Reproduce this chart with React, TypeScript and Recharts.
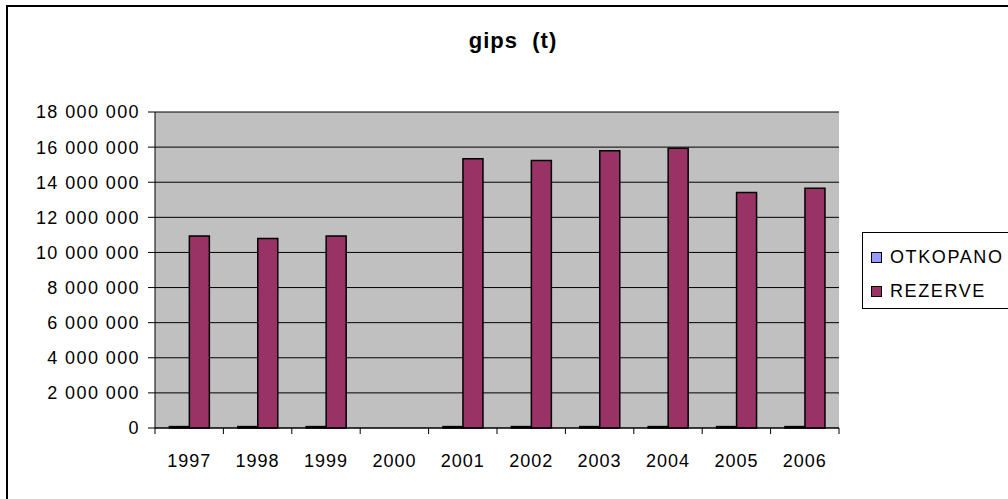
import React from 'react';
import {
  BarChart,
  Bar,
  XAxis,
  YAxis,
  CartesianGrid,
  ReferenceArea,
} from 'recharts';

const years = ['1997', '1998', '1999', '2000', '2001', '2002', '2003', '2004', '2005', '2006'];
const otkopano = [80000, 80000, 80000, null, 80000, 80000, 80000, 80000, 80000, 80000];
const rezerve = [10930000, 10800000, 10930000, null, 15340000, 15240000, 15790000, 15930000, 13420000, 13650000];
const yTicks = [0, 2000000, 4000000, 6000000, 8000000, 10000000, 12000000, 14000000, 16000000, 18000000];

const series = [
  { key: 'otkopano', name: 'OTKOPANO', color: '#9999FF' },
  { key: 'rezerve', name: 'REZERVE', color: '#993366' },
];

const data = years.map((year, i) => ({ year, otkopano: otkopano[i], rezerve: rezerve[i] }));

const FONT = '"Liberation Sans", Arial, sans-serif';

const fmt = (v: number) => String(v).replace(/\B(?=(\d{3})+(?!\d))/g, ' ');

const YearTick = (props: any) => {
  const { x, y, payload, index } = props;
  const half = payload.offset ?? 34.2;
  return (
    <g>
      <line x1={x - half} y1={y} x2={x - half} y2={y + 6} stroke="#000" />
      {index === years.length - 1 && <line x1={x + half} y1={y} x2={x + half} y2={y + 6} stroke="#000" />}
      <text x={x} y={y + 39} textAnchor="middle" fill="#000" fontSize={18} fontFamily={FONT} style={{ letterSpacing: 1 }}>
        {payload.value}
      </text>
    </g>
  );
};

export default function App() {
  return (
    <div style={{ position: 'absolute', left: 0, top: 0, width: 1008, height: 499, overflow: 'hidden', background: '#fff', fontFamily: FONT }}>
      <div style={{ position: 'absolute', left: 6, top: 5, width: 1100, height: 600, border: '2px solid #000' }} />
      <div style={{ position: 'absolute', left: 0, top: 30, width: 1026, textAlign: 'center', fontSize: 22, lineHeight: '22px', fontWeight: 'bold', whiteSpace: 'pre', letterSpacing: 1 }}>
        gips  (t)
      </div>
      <div style={{ position: 'absolute', left: 0, top: 0 }}>
        <BarChart
          width={1008}
          height={499}
          data={data}
          margin={{ top: 112, right: 169, bottom: 21, left: 0 }}
          barCategoryGap="21%"
          barGap={0}
        >
          <CartesianGrid vertical={false} stroke="#000" fill="#C0C0C0" fillOpacity={1} />
          <ReferenceArea fill="none" stroke="#808080" strokeWidth={2} ifOverflow="visible" />
          <XAxis
            dataKey="year"
            interval={0}
            height={50}
            tickLine={false}
            tickSize={0}
            tickMargin={0}
            axisLine={{ stroke: '#000' }}
            tick={<YearTick />}
          />
          <YAxis
            width={155}
            domain={[0, 18000000]}
            ticks={yTicks}
            interval={0}
            tickFormatter={fmt}
            tickSize={7}
            tickMargin={8}
            axisLine={{ stroke: '#000' }}
            tickLine={{ stroke: '#000' }}
            tick={{ fill: '#000', fontSize: 18, fontFamily: FONT, style: { letterSpacing: 1.4 } }}
          />
          {series.map((s) => (
            <Bar
              key={s.key}
              dataKey={s.key}
              name={s.name}
              fill={s.color}
              stroke="#000"
              strokeWidth={1.5}
              isAnimationActive={false}
            />
          ))}
        </BarChart>
      </div>
      <div style={{ position: 'absolute', left: 862, top: 232, width: 200, height: 75, border: '1px solid #000', background: '#fff' }}>
        {series.map((s, i) => (
          <div key={s.key} style={{ position: 'absolute', left: 8, top: 14 + i * 34, height: 20, display: 'flex', alignItems: 'center', fontSize: 18, letterSpacing: 1.6, whiteSpace: 'nowrap' }}>
            <span style={{ display: 'inline-block', width: 9, height: 9, background: s.color, border: '1px solid #000', marginRight: 8 }} />
            {s.name}
          </div>
        ))}
      </div>
    </div>
  );
}
